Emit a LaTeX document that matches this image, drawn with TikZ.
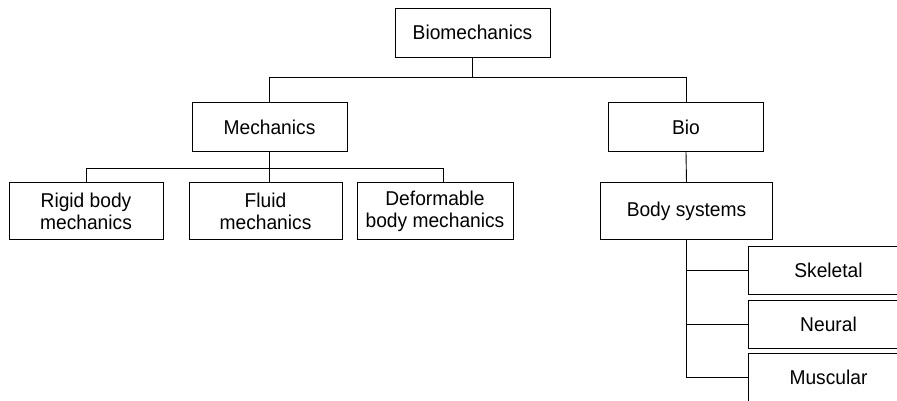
\documentclass[tikz,border=0pt]{standalone}
\usepackage{fontspec}
\setmainfont{Liberation Sans}[FakeStretch=0.96]
\usepackage{tikz}
\usetikzlibrary{positioning,calc}

\begin{document}
\begin{tikzpicture}[x=1pt,y=-1pt,
    box/.style={draw, line width=1pt, inner sep=0pt, align=center,
        font=\fontsize{20}{22}\selectfont},
    link/.style={line width=0.9pt}]
        \useasboundingbox (0,0) rectangle (897,400);
        \clip (0,0) rectangle (897,400);

        % Top level
        \node[box, minimum width=155, minimum height=49] (biomech) at (472.5,32.5) {Biomechanics};
        \node[box, minimum width=155, minimum height=49] (mech) at (269.5,127) {Mechanics};
        \node[box, minimum width=155, minimum height=49] (bio) at (686,127) {Bio};

        % Mechanics branches
        \node[box, minimum width=154, minimum height=57] (rigid) at (86,211) {Rigid body\\mechanics};
        \node[box, minimum width=153, minimum height=57] (fluid) at (265.5,211) {Fluid\\mechanics};
        \node[box, minimum width=156, minimum height=57] (deform) at (435,211) {Deformable\\body mechanics};
        \coordinate (deformtop) at ([xshift=8]deform.north);

        % Bio branches
        \node[box, minimum width=172, minimum height=57] (body) at (686.5,211) {Body systems};
        \node[box, minimum width=161, minimum height=48] (skeletal) at (828.5,270) {Skeletal};
        \node[box, minimum width=161, minimum height=48] (neural) at (828.5,324) {Neural};
        \node[box, minimum width=161, minimum height=48] (muscular) at (828.5,377) {Muscular};

        % Connectors
        \draw[link] (biomech.south) -- ++(0,20) -| (mech.north);
        \draw[link] (biomech.south) -- ++(0,20) -| (bio.north);
        \draw[link] (mech.south) -- (mech.south |- fluid.north);
        \draw[link] (rigid.north) -- ++(0,-14) -| (deformtop);
        \draw[link] (bio.south) -- (body.north);
        \draw[link] (body.south) |- (skeletal.west);
        \draw[link] (body.south) |- (neural.west);
        \draw[link] (body.south) |- (muscular.west);
    \end{tikzpicture}
\end{document}
